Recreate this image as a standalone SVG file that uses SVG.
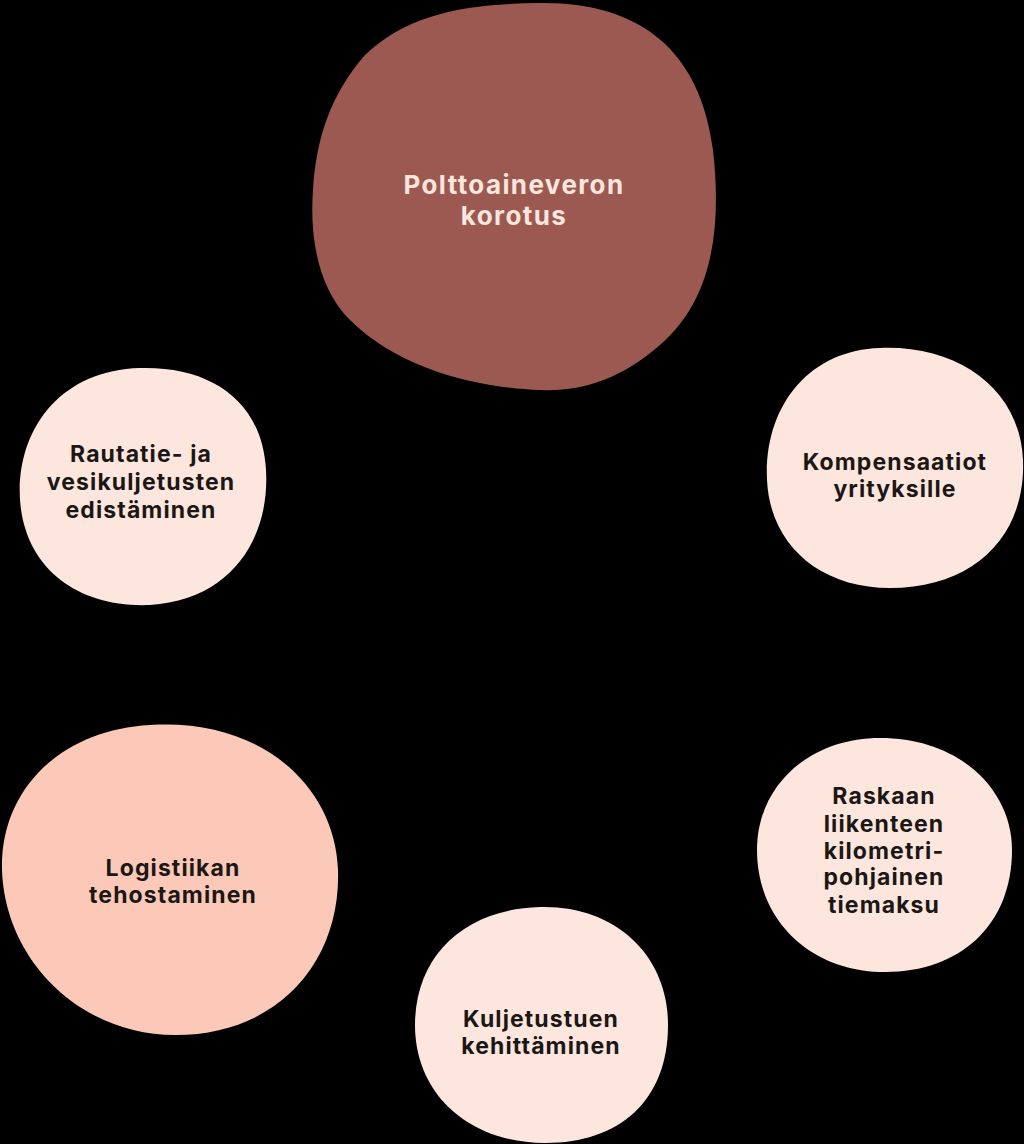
<svg xmlns="http://www.w3.org/2000/svg" width="1024" height="1144" viewBox="0 0 1024 1144">
<style>
.t{font-family:Inter,"Liberation Sans",sans-serif;font-weight:700;text-anchor:middle;}
.dark{fill:#1b1715;font-size:23px;letter-spacing:1.1px;}
.light{fill:#fde6dd;font-size:26px;letter-spacing:1.4px;}
.pale{fill:#fde6dd;}
.peach{fill:#fcc9b8;}
</style>
<rect width="1024" height="1144" fill="#000"/>
<g id="connectors"></g>
<g id="node-polttoaine">
<path fill="#9b5951" d="M 540,3 C 640,2 700,50 713,150 C 722,230 712,300 660,345 C 620,380 580,392 540,390 C 480,388 400,370 350,320 C 315,285 310,230 313,190 C 316,140 330,95 365,55 C 410,12 470,4 540,3 Z"/>
<text class="t light" x="514" y="194">Polttoaineveron</text>
<text class="t light" x="514" y="225">korotus</text>
</g>
<g id="node-rautatie">
<path class="pale" d="M 140,368 C 210,366 262,400 266,470 C 270,540 230,600 150,605 C 80,608 25,570 20,500 C 16,430 60,370 140,368 Z"/>
<text class="t dark" x="141" y="462">Rautatie- ja</text>
<text class="t dark" x="141" y="490">vesikuljetusten</text>
<text class="t dark" x="141" y="518">edistäminen</text>
</g>
<g id="node-kompensaatiot">
<path class="pale" d="M 880,348 C 960,345 1020,390 1023,460 C 1026,535 975,588 890,588 C 820,588 770,545 767,480 C 764,405 810,350 880,348 Z"/>
<text class="t dark" x="895" y="470">Kompensaatiot</text>
<text class="t dark" x="895" y="497">yrityksille</text>
</g>
<g id="node-logistiikka">
<path class="peach" d="M 150,725 C 260,718 335,785 338,870 C 341,960 280,1035 175,1035 C 80,1035 5,960 2,870 C 0,790 60,730 150,725 Z"/>
<text class="t dark" x="173" y="876">Logistiikan</text>
<text class="t dark" x="173" y="903">tehostaminen</text>
</g>
<g id="node-raskaan">
<path class="pale" d="M 880,738 C 960,738 1012,790 1012,850 C 1012,925 960,972 885,972 C 810,972 757,920 757,850 C 757,785 810,738 880,738 Z"/>
<text class="t dark" x="884" y="804">Raskaan</text>
<text class="t dark" x="884" y="832">liikenteen</text>
<text class="t dark" x="884" y="859">kilometri-</text>
<text class="t dark" x="884" y="885">pohjainen</text>
<text class="t dark" x="884" y="913">tiemaksu</text>
</g>
<g id="node-kuljetustuen">
<path class="pale" d="M 540,907 C 615,905 668,955 668,1025 C 668,1100 620,1143 545,1143 C 470,1143 415,1095 415,1025 C 415,955 465,909 540,907 Z"/>
<text class="t dark" x="541" y="1027">Kuljetustuen</text>
<text class="t dark" x="541" y="1054">kehittäminen</text>
</g>
</svg>
